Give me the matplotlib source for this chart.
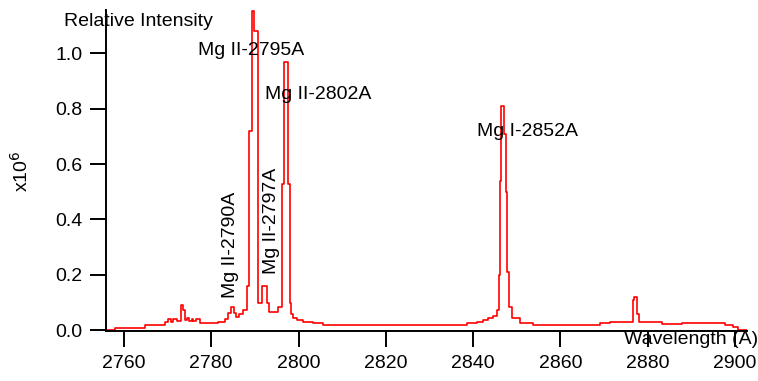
import matplotlib
matplotlib.use("Agg")
import matplotlib.pyplot as plt

plt.rcParams['font.family'] = ['Liberation Sans', 'DejaVu Sans']

# emission spectrum (wavelength in A, intensity in units of 1e6), stepwise samples
wavelength = [2755.88, 2757.94, 2764.81, 2769.40, 2770.16, 2770.70, 2771.30, 2772.07,
              2772.98, 2773.59, 2773.98, 2774.51, 2774.97, 2775.51, 2775.88, 2776.50,
              2777.42, 2781.61, 2783.14, 2783.90, 2784.45, 2785.21, 2785.66, 2786.42,
              2787.34, 2788.12, 2788.75, 2789.25, 2789.90, 2790.70, 2791.62, 2792.77,
              2793.23, 2795.30, 2796.10, 2796.60, 2797.50, 2797.95, 2798.30, 2798.70,
              2799.64, 2801.02, 2803.31, 2805.60, 2838.60, 2840.89, 2842.26, 2843.41,
              2844.56, 2845.47, 2845.93, 2846.16, 2846.50, 2847.08, 2847.53, 2847.87,
              2848.22, 2848.91, 2850.74, 2853.72, 2869.07, 2871.36, 2876.55, 2876.95,
              2877.60, 2878.10, 2883.28, 2887.86, 2897.72, 2899.54, 2900.69, 2902.75]
intensity = [0.000, 0.008, 0.017, 0.030, 0.039, 0.030, 0.042, 0.034,
             0.090, 0.072, 0.036, 0.045, 0.033, 0.040, 0.033, 0.040,
             0.025, 0.030, 0.039, 0.063, 0.084, 0.063, 0.048, 0.057,
             0.072, 0.160, 0.720, 1.155, 1.080, 0.100, 0.160, 0.100,
             0.065, 0.083, 0.530, 0.970, 0.530, 0.100, 0.060, 0.043,
             0.036, 0.029, 0.025, 0.018, 0.025, 0.029, 0.036, 0.043,
             0.050, 0.072, 0.200, 0.540, 0.810, 0.710, 0.500, 0.210,
             0.083, 0.043, 0.025, 0.018, 0.025, 0.029, 0.108, 0.120,
             0.060, 0.029, 0.022, 0.025, 0.018, 0.011, 0.000, 0.000]

# line labels: text, x, y, rotation
lines = [("Mg II-2795A", 2789.1, 1.012, 0),
         ("Mg II-2802A", 2804.45, 0.853, 0),
         ("Mg I-2852A", 2852.35, 0.719, 0),
         ("Mg II-2790A", 2784.5, 0.307, 90),
         ("Mg II-2797A", 2793.9, 0.396, 90)]

fig = plt.figure(figsize=(7.58, 3.81), dpi=100)
ax = fig.add_axes([0.1398, 0.1312, 0.8457, 0.8426])

ax.plot(wavelength, intensity, color='#ff0000', lw=1.2, drawstyle='steps-post')

ax.set_xlim(2755.88, 2902.75)
ax.set_ylim(-0.003, 1.157)
ax.set_xticks([2760, 2780, 2800, 2820, 2840, 2860, 2880, 2900])
ax.set_yticks([0.0, 0.2, 0.4, 0.6, 0.8, 1.0])
ax.set_yticklabels(["0.0", "0.2", "0.4", "0.6", "0.8", "1.0"])

for s in ['top', 'right']:
    ax.spines[s].set_visible(False)
for s in ['left', 'bottom']:
    ax.spines[s].set_linewidth(1.4)
ax.tick_params(axis='both', direction='out', length=11.5, width=1.4,
               labelsize=14, pad=5.5)

for txt, x, y, rot in lines:
    ax.text(x, y, txt, fontsize=14, rotation=rot, ha='center', va='center')

fig.text(138 / 758, 1 - 21 / 381, "Relative Intensity", fontsize=14,
         ha='center', va='center')
fig.text(21 / 758, 1 - 171 / 381, r"x10$^{6}$", fontsize=14, rotation=90,
         ha='center', va='center')
fig.text(758 / 758, 1 - 340 / 381, "Wavelength (A)", fontsize=14,
         ha='right', va='center')

fig.savefig("out.png", dpi=100)
